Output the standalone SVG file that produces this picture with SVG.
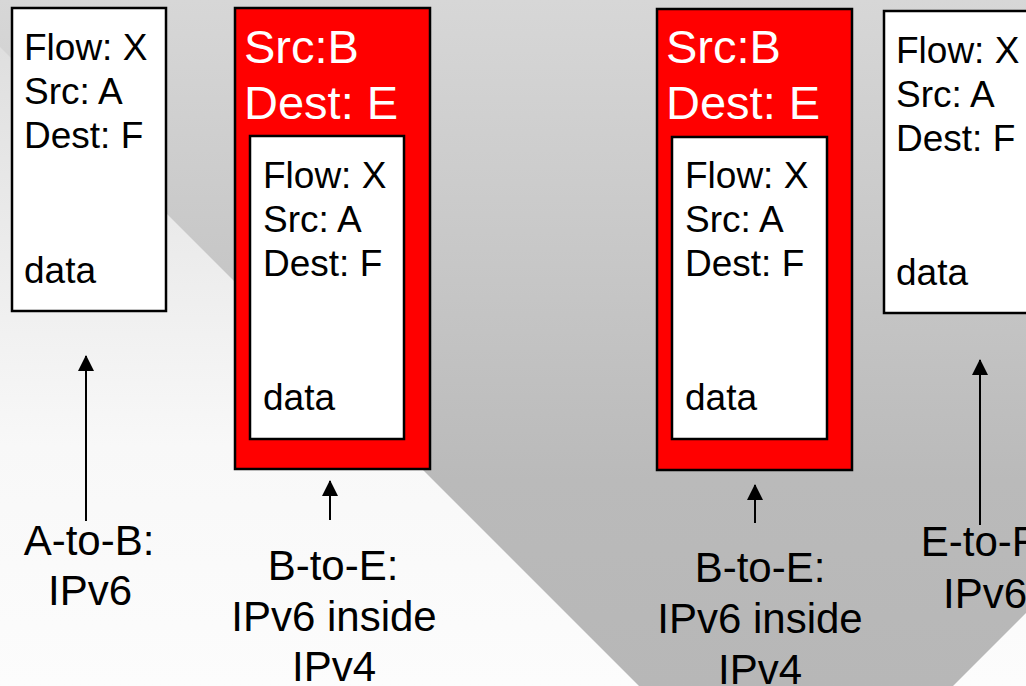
<svg xmlns="http://www.w3.org/2000/svg" width="1026" height="686" viewBox="0 0 1026 686">
<defs>
<linearGradient id="bgL" x1="0" y1="0" x2="0" y2="686" gradientUnits="userSpaceOnUse">
<stop offset="0" stop-color="#dcdcdc"/>
<stop offset="0.65" stop-color="#f8f8f8"/>
<stop offset="1" stop-color="#fcfcfc"/>
</linearGradient>
<linearGradient id="bgD" x1="0" y1="0" x2="0" y2="686" gradientUnits="userSpaceOnUse">
<stop offset="0" stop-color="#d7d7d7"/>
<stop offset="0.7" stop-color="#bababa"/>
<stop offset="1" stop-color="#b7b7b7"/>
</linearGradient>
<marker id="ah" viewBox="0 0 16 16" refX="15" refY="8" markerWidth="16" markerHeight="16" markerUnits="userSpaceOnUse" orient="auto">
<path d="M0,0 L16,8 L0,16 z" fill="#000"/>
</marker>
<style>
.t{font-family:"Liberation Sans",Arial,sans-serif;fill:#000}
.pk{font-size:37px}
.hd{font-size:47px;fill:#fff}
.lb{font-size:42px;text-anchor:middle}
.wb{fill:#fff;stroke:#000;stroke-width:2.5}
.rb{fill:#ff0000;stroke:#000;stroke-width:2.5}
.ar{stroke:#000;stroke-width:2;fill:none;marker-end:url(#ah)}
</style>
</defs>
<rect x="0" y="0" width="1026" height="686" fill="url(#bgL)"/>
<polygon points="0,0 0,47 796,843 1026,613 1026,0" fill="url(#bgD)"/>

<g id="packet-ab">
<rect class="wb" x="12" y="8" width="154" height="303"/>
<text class="t pk" x="24" y="60">Flow: X</text>
<text class="t pk" x="24" y="104">Src: A</text>
<text class="t pk" x="24" y="148">Dest: F</text>
<text class="t pk" x="24" y="283">data</text>
</g>

<g id="packet-be-1">
<rect class="rb" x="235" y="8" width="195" height="461"/>
<text class="t hd" x="244" y="63">Src:B</text>
<text class="t hd" x="244" y="119">Dest: E</text>
<rect class="wb" x="250" y="136" width="154" height="303"/>
<text class="t pk" x="263" y="188">Flow: X</text>
<text class="t pk" x="263" y="232">Src: A</text>
<text class="t pk" x="263" y="276">Dest: F</text>
<text class="t pk" x="263" y="410">data</text>
</g>

<g id="packet-be-2">
<rect class="rb" x="657" y="9" width="195" height="461"/>
<text class="t hd" x="666" y="63">Src:B</text>
<text class="t hd" x="666" y="119">Dest: E</text>
<rect class="wb" x="672" y="137" width="155" height="302"/>
<text class="t pk" x="685" y="188">Flow: X</text>
<text class="t pk" x="685" y="232">Src: A</text>
<text class="t pk" x="685" y="276">Dest: F</text>
<text class="t pk" x="685" y="410">data</text>
</g>

<g id="packet-ef">
<rect class="wb" x="884" y="11" width="154" height="302"/>
<text class="t pk" x="896" y="63">Flow: X</text>
<text class="t pk" x="896" y="107">Src: A</text>
<text class="t pk" x="896" y="151">Dest: F</text>
<text class="t pk" x="896" y="285">data</text>
</g>

<g id="connectors">
<line class="ar" x1="86" y1="521" x2="86" y2="356"/>
<line class="ar" x1="330" y1="520" x2="330" y2="481"/>
<line class="ar" x1="755" y1="523" x2="755" y2="485"/>
<line class="ar" x1="980" y1="525" x2="980" y2="360"/>
</g>

<g id="label-ab">
<text class="t lb" x="89" y="555">A-to-B:</text>
<text class="t lb" x="90" y="605">IPv6</text>
</g>
<g id="label-be-1">
<text class="t lb" x="333" y="580">B-to-E:</text>
<text class="t lb" x="334" y="631">IPv6 inside</text>
<text class="t lb" x="334" y="681">IPv4</text>
</g>
<g id="label-be-2">
<text class="t lb" x="760" y="582">B-to-E:</text>
<text class="t lb" x="760" y="633">IPv6 inside</text>
<text class="t lb" x="760" y="684">IPv4</text>
</g>
<g id="label-ef">
<text class="t lb" x="985" y="556">E-to-F:</text>
<text class="t lb" x="985" y="608">IPv6</text>
</g>
</svg>
